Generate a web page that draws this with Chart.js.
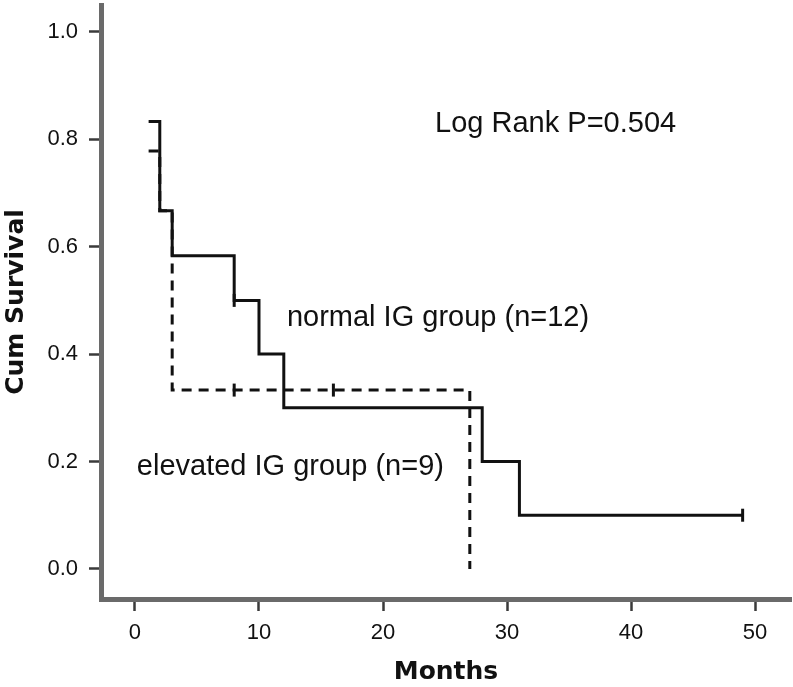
<!DOCTYPE html>
<html>
<head>
<meta charset="utf-8">
<script src="https://cdn.jsdelivr.net/npm/chart.js@4.4.1/dist/chart.umd.min.js"></script>
<style>
  html, body { margin: 0; padding: 0; background: #fff; overflow: hidden; }
  #wrap { width: 793px; height: 687px; position: relative; }
  canvas { display: block; }
</style>
</head>
<body>
<div id="wrap"><canvas id="c"></canvas></div>
<script>
// ---- data ----
const normalTimes = [1.1, 2, 3, 8, 10, 12, 28, 31, 49];
const normalSurv  = [0.833, 0.667, 0.583, 0.5, 0.4, 0.3, 0.2, 0.1, 0.1];
const normalCensorTimes = [8, 49];
const normalCensorSurv  = [0.5, 0.1];

const elevatedTimes = [1.1, 2, 3, 27];
const elevatedSurv  = [0.778, 0.667, 0.333, 0];
const elevatedCensorTimes = [8, 16];
const elevatedCensorSurv  = [0.333, 0.333];

const xTicks = [0, 10, 20, 30, 40, 50];
const yTicks = [0, 0.2, 0.4, 0.6, 0.8, 1.0];

const xTitle = 'Months';
const yTitle = 'Cum Survival';

const noteTexts = ['Log Rank P=0.504', 'normal IG group (n=12)', 'elevated IG group (n=9)'];
const noteX = [24.2, 12.25, 0.15];
const noteY = [0.814, 0.452, 0.175];

// ---- build ----
const pts = (xs, ys) => xs.map((x, i) => ({x: x, y: ys[i]}));
const ink = '#111111';

const notesPlugin = {
  id: 'notes',
  afterDatasetsDraw(chart) {
    const {ctx, scales: {x, y}} = chart;
    ctx.save();
    ctx.fillStyle = ink;
    ctx.font = '29px "Liberation Sans", Arial, sans-serif';
    ctx.textAlign = 'left';
    ctx.textBaseline = 'alphabetic';
    noteTexts.forEach((t, i) => {
      ctx.fillText(t, x.getPixelForValue(noteX[i]), y.getPixelForValue(noteY[i]));
    });
    ctx.restore();
  }
};

const censorStyle = {
  type: 'scatter',
  showLine: false,
  pointStyle: 'line',
  rotation: 90,
  pointRadius: 6.5,
  pointHoverRadius: 6.5,
  borderWidth: 3,
  borderColor: ink,
  backgroundColor: ink
};

new Chart(document.getElementById('c'), {
  type: 'line',
  data: {
    datasets: [
      Object.assign({}, censorStyle, {label: 'elevated censored', data: pts(elevatedCensorTimes, elevatedCensorSurv), order: 3}),
      {
        label: 'elevated IG group',
        data: pts(elevatedTimes, elevatedSurv),
        stepped: 'before',
        borderColor: ink,
        borderWidth: 3,
        borderDash: [10, 7],
        pointRadius: 0,
        fill: false,
        order: 4
      },
      Object.assign({}, censorStyle, {label: 'normal censored', data: pts(normalCensorTimes, normalCensorSurv), order: 1}),
      {
        label: 'normal IG group',
        data: pts(normalTimes, normalSurv),
        stepped: 'before',
        borderColor: ink,
        borderWidth: 3,
        pointRadius: 0,
        fill: false,
        order: 2
      }
    ]
  },
  options: {
    responsive: true,
    maintainAspectRatio: false,
    animation: false,
    devicePixelRatio: 1,
    layout: { autoPadding: false, padding: { top: 5, right: 2, left: 0, bottom: 0 } },
    plugins: {
      legend: { display: false },
      tooltip: { enabled: false },
      title: { display: false }
    },
    scales: {
      x: {
        type: 'linear',
        min: -2.74,
        max: 52.9,
        afterBuildTicks: s => { s.ticks = xTicks.map(v => ({value: v})); },
        afterFit: s => { s.height = 88; s.paddingLeft = 0; s.paddingRight = 0; },
        ticks: {
          color: ink,
          font: { family: '"Liberation Sans", Arial, sans-serif', size: 22 },
          padding: 9,
          maxRotation: 0,
          autoSkip: false
        },
        grid: {
          display: true,
          drawOnChartArea: false,
          drawTicks: true,
          tickLength: 12,
          tickColor: '#3a3a3a',
          tickWidth: 2.5
        },
        border: { display: true, color: '#6a6a6a', width: 5 },
        title: {
          display: true,
          text: xTitle,
          color: ink,
          font: { family: '"DejaVu Sans", sans-serif', size: 25, weight: 'bold' },
          padding: { top: 0, bottom: 0 }
        }
      },
      y: {
        type: 'linear',
        min: -0.056,
        max: 1.05,
        afterBuildTicks: s => { s.ticks = yTicks.map(v => ({value: v})); },
        afterFit: s => { s.width = 101; s.paddingTop = 0; s.paddingBottom = 0; },
        ticks: {
          color: ink,
          font: { family: '"Liberation Sans", Arial, sans-serif', size: 22 },
          padding: 11,
          callback: v => Number(v).toFixed(1)
        },
        grid: {
          display: true,
          drawOnChartArea: false,
          drawTicks: true,
          tickLength: 12,
          tickColor: '#3a3a3a',
          tickWidth: 2.5
        },
        border: { display: true, color: '#6a6a6a', width: 5 },
        title: {
          display: true,
          text: yTitle,
          color: ink,
          font: { family: '"DejaVu Sans", sans-serif', size: 25, weight: 'bold' },
          padding: { top: 1, bottom: 0 }
        }
      }
    }
  },
  plugins: [notesPlugin]
});
</script>
</body>
</html>
